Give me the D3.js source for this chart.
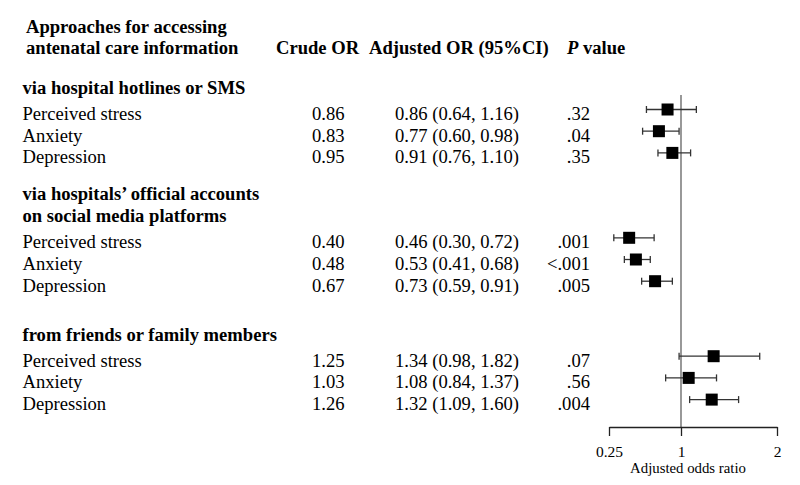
<!DOCTYPE html>
<html>
<head>
<meta charset="utf-8">
<script src="https://cdn.jsdelivr.net/npm/d3@7"></script>
<style>
  html, body { margin: 0; padding: 0; background: #fff; }
  svg { display: block; font-family: "Liberation Serif", "Times New Roman", serif; }
</style>
</head>
<body>
<svg id="chart" width="800" height="485"></svg>
<script>
// ---- data ----
const groups = [
  ["via hospital hotlines or SMS"],
  ["via hospitals\u2019 official accounts", "on social media platforms"],
  ["from friends or family members"]
];
const outcomes = ["Perceived stress", "Anxiety", "Depression"];
const crudeOR = [0.86, 0.83, 0.95, 0.40, 0.48, 0.67, 1.25, 1.03, 1.26];
const adjOR   = [0.86, 0.77, 0.91, 0.46, 0.53, 0.73, 1.34, 1.08, 1.32];
const ciLow   = [0.64, 0.60, 0.76, 0.30, 0.41, 0.59, 0.98, 0.84, 1.09];
const ciHigh  = [1.16, 0.98, 1.10, 0.72, 0.68, 0.91, 1.82, 1.37, 1.60];
const pValues = [".32", ".04", ".35", ".001", "<.001", ".005", ".07", ".56", ".004"];
const axisTicks = [0.25, 1, 2];
const axisTickLabels = ["0.25", "1", "2"];
const headerTitle = ["Approaches for accessing", "antenatal care information"];
const colHeaders = ["Crude OR", "Adjusted OR (95%CI)", "value"];
const axisTitle = "Adjusted odds ratio";

// ---- layout ----
const svg = d3.select("#chart");
const fs = 18.6;
const lineH = 21.7;
const groupFirstRow = [120, 248.3, 366.7];
const headerGap = 26.2;

const x = d3.scaleLinear().domain([0.25, 2]).range([609, 777]);

function fmt(v) { return d3.format(".2f")(v); }

// header
svg.append("g").selectAll("text").data(headerTitle).join("text")
  .attr("x", 26).attr("y", (d, i) => 32.5 + i * 21)
  .attr("font-size", fs).attr("font-weight", "bold").attr("fill", "#000")
  .text(d => d);

const hy = 53.5;
svg.append("text").attr("x", 276).attr("y", hy).attr("font-size", fs)
  .attr("font-weight", "bold").text(colHeaders[0]);
svg.append("text").attr("x", 369).attr("y", hy).attr("font-size", fs)
  .attr("font-weight", "bold").text(colHeaders[1]);
const pv = svg.append("text").attr("x", 567).attr("y", hy).attr("font-size", fs)
  .attr("font-weight", "bold");
pv.append("tspan").attr("font-style", "italic").text("P");
pv.append("tspan").text(" " + colHeaders[2]);

// rows
const rows = [];
groups.forEach((g, gi) => {
  outcomes.forEach((o, oi) => {
    const k = gi * outcomes.length + oi;
    rows.push({
      g: gi, label: o, crude: crudeOR[k], adj: adjOR[k], lo: ciLow[k], hi: ciHigh[k], p: pValues[k],
      y: groupFirstRow[gi] + oi * lineH
    });
  });
  const n = g.length;
  g.forEach((line, li) => {
    svg.append("text")
      .attr("x", 22.5)
      .attr("y", groupFirstRow[gi] - headerGap - (n - 1 - li) * lineH)
      .attr("font-size", fs).attr("font-weight", "bold").text(line);
  });
});

const rowG = svg.append("g").selectAll("g").data(rows).join("g");
rowG.append("text").attr("x", 22.5).attr("y", d => d.y).attr("font-size", fs).text(d => d.label);
rowG.append("text").attr("x", 312).attr("y", d => d.y).attr("font-size", fs).text(d => fmt(d.crude));
rowG.append("text").attr("x", 395).attr("y", d => d.y).attr("font-size", fs)
  .text(d => `${fmt(d.adj)} (${fmt(d.lo)}, ${fmt(d.hi)})`);
rowG.append("text").attr("x", 590).attr("y", d => d.y).attr("font-size", fs)
  .attr("text-anchor", "end").text(d => d.p);

// forest plot
const axisY = 427;
svg.append("line")
  .attr("x1", x(1)).attr("x2", x(1)).attr("y1", 95).attr("y2", axisY)
  .attr("stroke", "#444").attr("stroke-width", 1.1);

const fp = svg.append("g").selectAll("g").data(rows).join("g");
const cy = d => d.y - 10.5;
fp.append("line").attr("x1", d => x(d.lo)).attr("x2", d => x(d.hi))
  .attr("y1", cy).attr("y2", cy).attr("stroke", "#333").attr("stroke-width", 1.3);
fp.append("line").attr("x1", d => x(d.lo)).attr("x2", d => x(d.lo))
  .attr("y1", d => cy(d) - 3.5).attr("y2", d => cy(d) + 3.5).attr("stroke", "#333").attr("stroke-width", 1.3);
fp.append("line").attr("x1", d => x(d.hi)).attr("x2", d => x(d.hi))
  .attr("y1", d => cy(d) - 3.5).attr("y2", d => cy(d) + 3.5).attr("stroke", "#333").attr("stroke-width", 1.3);
const sq = 12;
fp.append("rect").attr("x", d => x(d.adj) - sq / 2).attr("y", d => cy(d) - sq / 2)
  .attr("width", sq).attr("height", sq).attr("fill", "#000");

// axis
const axis = d3.axisBottom(x).tickValues(axisTicks).tickSize(9).tickSizeOuter(0)
  .tickFormat((d, i) => axisTickLabels[i]);
const ax = svg.append("g").attr("transform", `translate(0,${axisY})`).call(axis);
ax.select(".domain").attr("stroke", "#222").attr("stroke-width", 1.3);
ax.selectAll(".tick line").attr("stroke", "#222").attr("stroke-width", 1.3);
ax.selectAll(".tick text").attr("font-family", "Liberation Serif, Times New Roman, serif")
  .attr("font-size", 15.5).attr("fill", "#000").attr("dy", null).attr("y", 29.5);

svg.append("text").attr("x", 688).attr("y", 473).attr("font-size", 14.8)
  .attr("text-anchor", "middle").text(axisTitle);
</script>
</body>
</html>
